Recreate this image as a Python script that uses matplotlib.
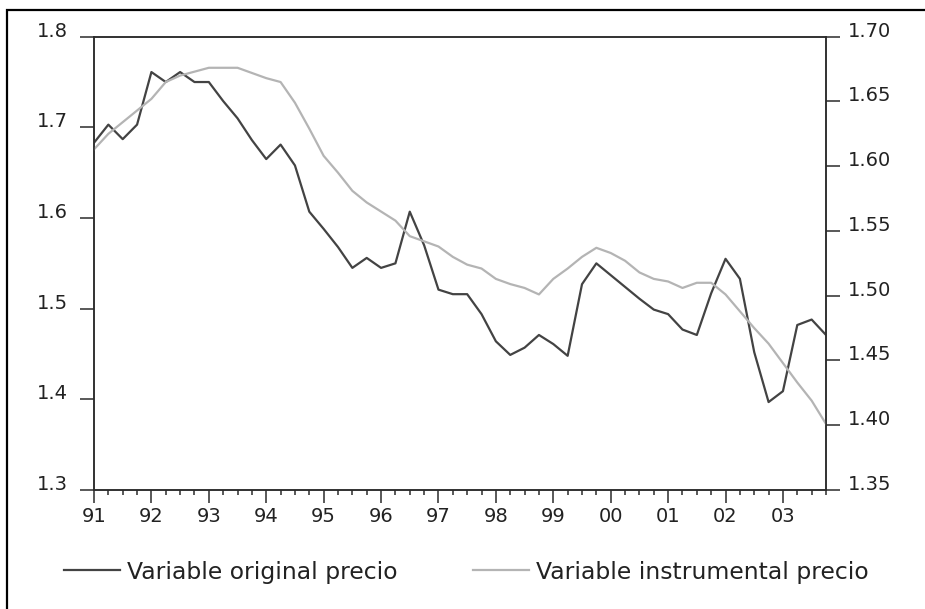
import matplotlib
matplotlib.use("Agg")
import matplotlib.pyplot as plt  # noqa: E402
from matplotlib.patches import Rectangle  # noqa: E402
from matplotlib.ticker import MultipleLocator, FixedLocator  # noqa: E402

# quarterly series 1991Q1 .. 2003Q4
years = ["91", "92", "93", "94", "95", "96", "97", "98", "99", "00", "01", "02", "03"]
original = [1.683, 1.703, 1.687, 1.703, 1.761, 1.750, 1.761, 1.750,
            1.750, 1.729, 1.710, 1.686, 1.665, 1.681, 1.658, 1.607,
            1.588, 1.568, 1.545, 1.556, 1.545, 1.550, 1.607, 1.570,
            1.521, 1.516, 1.516, 1.494, 1.464, 1.449, 1.457, 1.471,
            1.461, 1.448, 1.527, 1.550, 1.537, 1.524, 1.511, 1.499,
            1.494, 1.477, 1.471, 1.517, 1.555, 1.533, 1.452, 1.397,
            1.409, 1.482, 1.488, 1.471]
instrumental = [1.613, 1.625, 1.634, 1.643, 1.652, 1.665, 1.670, 1.673,
                1.676, 1.676, 1.676, 1.672, 1.668, 1.665, 1.649, 1.629,
                1.608, 1.595, 1.581, 1.572, 1.565, 1.558, 1.546, 1.542,
                1.538, 1.530, 1.524, 1.521, 1.513, 1.509, 1.506, 1.501,
                1.513, 1.521, 1.530, 1.537, 1.533, 1.527, 1.518, 1.513,
                1.511, 1.506, 1.510, 1.510, 1.501, 1.488, 1.475, 1.463,
                1.448, 1.433, 1.419, 1.401]
labels = ["Variable original precio", "Variable instrumental precio"]

DARK, LIGHT, AXC = "#434343", "#b4b4b4", "#2b2b2b"
plt.rcParams.update({"font.family": ["DejaVu Sans"], "font.size": 14,
                     "text.color": "#222222", "xtick.color": AXC, "ytick.color": AXC,
                     "xtick.labelcolor": "#222222", "ytick.labelcolor": "#222222"})

fig = plt.figure(figsize=(9.25, 6.09), dpi=100)
ax = fig.add_axes([94 / 925, 1 - 490 / 609, (826 - 94) / 925, (490 - 36.7) / 609])
ax2 = ax.twinx()

q = list(range(len(original)))
l1, = ax.plot(q, original, color=DARK, lw=1.6, zorder=3)
l2, = ax2.plot(q, instrumental, color=LIGHT, lw=1.6, zorder=2)

ax.set_xlim(0, len(q) - 1)
ax.set_ylim(1.3, 1.8)
ax2.set_ylim(1.35, 1.70)
ax.yaxis.set_major_locator(MultipleLocator(0.1))
ax2.yaxis.set_major_locator(MultipleLocator(0.05))
ax.yaxis.set_major_formatter(plt.FuncFormatter(lambda v, p: f"{v:.1f}"))
ax2.yaxis.set_major_formatter(plt.FuncFormatter(lambda v, p: f"{v:.2f}"))

ax.xaxis.set_major_locator(FixedLocator([4 * i for i in range(len(years))]))
ax.set_xticklabels(years)
ax.xaxis.set_minor_locator(FixedLocator([i for i in q if i % 4]))

for a in (ax, ax2):
    for s in a.spines.values():
        s.set_color(AXC); s.set_linewidth(1.1)
ax.tick_params(axis="y", length=10, width=1.1, pad=9)
ax2.tick_params(axis="y", length=10, width=1.1, pad=5.5)
ax.tick_params(axis="x", which="major", length=9.5, width=1.1, pad=3)
ax.tick_params(axis="x", which="minor", length=3.5, width=1.1)
for lab in ax.get_yticklabels() + ax2.get_yticklabels():
    lab.set_va("baseline")

fig.legend([l1, l2], labels, loc="center left", bbox_to_anchor=(64 / 925, 1 - 572 / 609),
           ncol=2, frameon=False, borderpad=0, borderaxespad=0, handlelength=2.4,
           handletextpad=0.3, columnspacing=3.2, fontsize=16.9)

# outer frame, only its top and left edges fall inside the picture
fig.patches.append(Rectangle((7 / 925, -0.1), 1.2, 1.1 - 10 / 609, transform=fig.transFigure,
                             fill=False, edgecolor="black", lw=1.6))

fig.savefig("out.png", dpi=100)
